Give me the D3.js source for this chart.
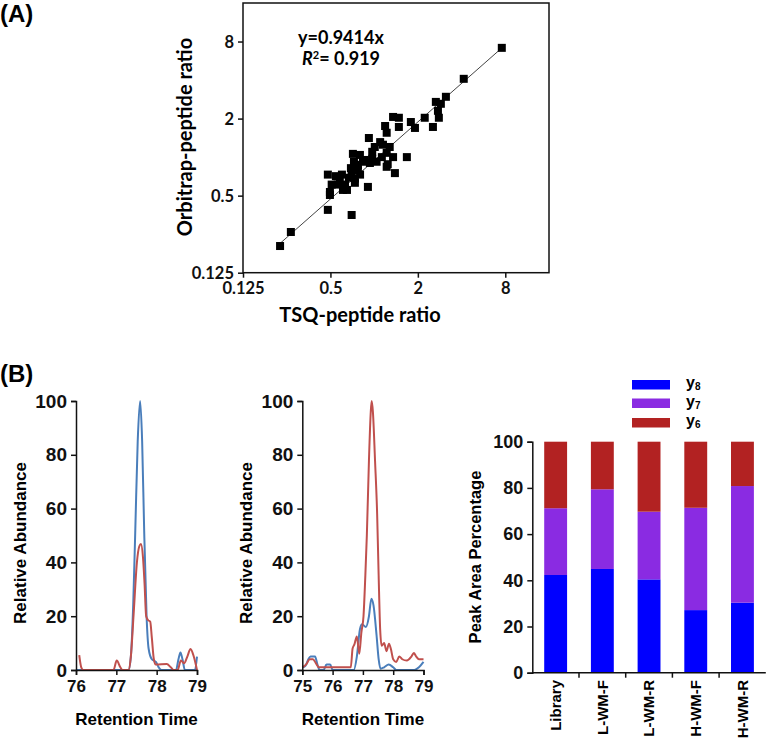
<!DOCTYPE html>
<html>
<head>
<meta charset="utf-8">
<script src="https://cdn.jsdelivr.net/npm/d3@7"></script>
<style>
  body { margin: 0; background: #fff; }
  svg { display: block; }
</style>
</head>
<body>
<div id="chart"></div>
<script>
// ---- (A) scatter: TSQ vs Orbitrap peptide ratio ----
var tsqRatio  = [7.57, 4.14, 3.12, 2.66, 2.88, 2.75, 2.79, 2.23, 2.54, 1.79, 1.91, 1.48, 1.35, 1.48, 1.19, 1.22, 0.92,
                 1.10, 1.15, 1.01, 1.28, 0.97, 1.22, 1.13, 1.35, 1.68, 0.714, 0.798, 0.864, 0.935, 0.726, 0.773, 1.04,
                 1.24, 1.22, 0.692, 0.773, 1.39, 0.48, 0.545, 0.60, 0.70, 0.80, 0.737, 0.51, 0.56, 0.63, 0.737, 0.906,
                 0.496, 0.61, 0.65, 0.496, 0.48, 0.70, 0.267, 0.225, 0.837, 0.97, 0.67, 0.58];
var orbiRatio = [7.14, 4.09, 2.96, 2.70, 2.61, 2.30, 2.03, 2.03, 1.72, 1.88, 1.69, 2.03, 2.06, 1.72, 1.75, 1.55, 1.41,
                 1.31, 1.25, 1.20, 1.20, 1.10, 1.08, 1.00, 1.00, 1.00, 1.06, 1.04, 0.95, 0.90, 0.92, 0.87, 0.92,
                 0.88, 0.84, 0.82, 0.79, 0.75, 0.73, 0.71, 0.73, 0.73, 0.73, 0.68, 0.61, 0.61, 0.61, 0.63, 0.585,
                 0.534, 0.554, 0.554, 0.506, 0.387, 0.353, 0.26, 0.202, 0.92, 0.97, 0.69, 0.66];
var fitSlope = 0.9414;
var fitR2 = "0.919";
var logTicks = [0.125, 0.5, 2, 8];

// ---- (B) chromatograms [retention time, relative abundance] ----
var chrom1Blue = [[76.0,0],[77.3,0],[77.36,5],[77.42,25],[77.47,52],[77.53,85],[77.59,100],[77.64,85],[77.69,52],
                  [77.75,20],[77.8,8],[77.88,4],[77.98,3],[78.05,1],[78.12,0],[78.48,0],[78.54,4],[78.59,6.5],
                  [78.64,4],[78.7,0],[78.95,0],[79.0,5]];
var chrom1Red  = [[76.08,5.5],[76.13,1],[76.18,0],[76.93,0],[77.01,3.5],[77.1,1],[77.15,0],[77.3,0],[77.36,5],
                  [77.43,21],[77.51,40],[77.57,46],[77.61,46.8],[77.66,42],[77.7,32],[77.74,20],[77.79,18.5],
                  [77.84,18],[77.88,12],[77.93,4],[77.98,2],[78.25,2.2],[78.35,1],[78.42,0],[78.52,0],[78.6,3.5],
                  [78.68,2.5],[78.76,5],[78.84,7.8],[78.92,5],[79.0,0]];
var chrom2Blue = [[75.0,1],[75.1,1.5],[75.2,4],[75.27,5],[75.42,5],[75.5,2],[75.57,0],[75.7,0],[75.8,2],[75.92,2],
                  [76.0,0],[76.7,0],[76.8,5],[76.9,15],[76.97,17],[77.1,16],[77.2,20],[77.28,26.5],[77.35,24],
                  [77.45,13],[77.52,4],[77.58,0.5],[77.7,1],[77.85,2],[78.0,1],[78.1,0],[78.7,0],[78.85,1],[79.0,3]];
var chrom2Red  = [[75.0,1],[75.12,2],[75.25,4],[75.35,4],[75.45,2.5],[75.55,1],[76.6,1],[76.66,8],[76.72,9.5],
                  [76.8,12.5],[76.88,6],[76.95,14],[77.02,20],[77.08,35],[77.13,50],[77.2,78],[77.26,96],[77.29,100],
                  [77.33,96],[77.4,78],[77.47,58],[77.52,35],[77.57,15],[77.62,9],[77.7,10],[77.78,7],[77.86,9.8],
                  [77.92,8],[78.0,4],[78.1,3],[78.2,5],[78.3,4],[78.45,3.5],[78.6,5],[78.68,6.3],[78.76,5],
                  [78.85,4],[79.0,4]];
var chrom1Ticks = [76, 77, 78, 79];
var chrom2Ticks = [75, 76, 77, 78, 79];
var abundTicks = [0, 20, 40, 60, 80, 100];

// ---- (B) stacked bars: peak area percentage ----
var barCategories = ["Library", "L-WM-F", "L-WM-R", "H-WM-F", "H-WM-R"];
var y8Pct = [42.3, 44.9, 40.4, 27.1, 30.3];
var y7Pct = [28.9, 34.5, 29.3, 44.3, 50.5];
var y6Pct = [28.8, 20.6, 30.3, 28.6, 19.2];
var ionKeys = ["y8", "y7", "y6"];
var ionSub = ["8", "7", "6"];

var W = 766, H = 739;
var arial = "'Liberation Sans', Arial, sans-serif";
var calibri = "Lato, 'Open Sans', sans-serif";

var svg = d3.select("#chart")
    .append("svg")
        .attr("width", W)
        .attr("height", H);

function styleAxis(g, size, family) {
    g.selectAll("text")
        .attr("font-family", family)
        .attr("font-size", size)
        .attr("font-weight", "bold")
        .attr("fill", "#111");
    g.selectAll("line, path").attr("stroke", "#111").attr("stroke-width", 1.5);
}

// panel letters
svg.append("text").attr("x", 0).attr("y", 22)
    .attr("font-family", arial).attr("font-size", 24).attr("font-weight", "bold")
    .text("(A)");
svg.append("text").attr("x", 0).attr("y", 382)
    .attr("font-family", arial).attr("font-size", 24).attr("font-weight", "bold")
    .text("(B)");

// ================= (A) =================
var sx = d3.scaleLog().base(2).domain([0.125, 16]).range([243, 549]);
var sy = d3.scaleLog().base(2).domain([0.125, 16]).range([272.7, 3]);

var gA = svg.append("g");

gA.append("rect")
    .attr("x", sx.range()[0]).attr("y", sy.range()[1])
    .attr("width", sx.range()[1] - sx.range()[0])
    .attr("height", sy.range()[0] - sy.range()[1])
    .attr("fill", "none").attr("stroke", "#111").attr("stroke-width", 1.5);

var axA = gA.append("g")
    .attr("transform", "translate(0," + sy.range()[0] + ")")
    .call(d3.axisBottom(sx).tickValues(logTicks).tickFormat(function(d) { return d; }).tickSize(5).tickPadding(5));
axA.select(".domain").remove();
styleAxis(axA, 16.5, calibri);

var ayA = gA.append("g")
    .attr("transform", "translate(" + sx.range()[0] + ",0)")
    .call(d3.axisLeft(sy).tickValues(logTicks).tickFormat(function(d) { return d; }).tickSize(5).tickPadding(4));
ayA.select(".domain").remove();
styleAxis(ayA, 16.5, calibri);
ayA.selectAll("text").attr("dy", "0.35em");

// fit line
var xExt = d3.extent(tsqRatio);
gA.append("line")
    .attr("x1", sx(xExt[0])).attr("y1", sy(xExt[0] * fitSlope))
    .attr("x2", sx(xExt[1])).attr("y2", sy(xExt[1] * fitSlope))
    .attr("stroke", "#444").attr("stroke-width", 1);

gA.selectAll("rect.pt")
    .data(tsqRatio)
    .enter()
    .append("rect")
        .attr("class", "pt")
        .attr("x", function(d) { return sx(d) - 4; })
        .attr("y", function(d, i) { return sy(orbiRatio[i]) - 4; })
        .attr("width", 8).attr("height", 8)
        .attr("fill", "#000");

gA.append("text").attr("x", 298).attr("y", 44)
    .attr("font-family", calibri).attr("font-size", 18).attr("font-weight", "bold")
    .text("y=" + fitSlope + "x");
var r2 = gA.append("text").attr("x", 302).attr("y", 65)
    .attr("font-family", calibri).attr("font-size", 18).attr("font-weight", "bold");
r2.append("tspan").attr("font-style", "italic").text("R");
r2.append("tspan").attr("font-size", 11).attr("dy", -6).text("2");
r2.append("tspan").attr("dy", 6).text("= " + fitR2);

gA.append("text")
    .attr("text-anchor", "middle")
    .attr("x", 360).attr("y", 322)
    .attr("font-family", calibri).attr("font-size", 20).attr("font-weight", "bold")
    .text("TSQ-peptide ratio");
gA.append("text")
    .attr("text-anchor", "middle")
    .attr("transform", "translate(192,137) rotate(-90)")
    .attr("font-family", calibri).attr("font-size", 20).attr("font-weight", "bold")
    .text("Orbitrap-peptide ratio");

// ================= (B) chromatograms =================
function chromatogram(xDomain, xRange, ticks, blue, red, labelX) {
    var x = d3.scaleLinear().domain(xDomain).range(xRange);
    var y = d3.scaleLinear().domain([0, 100]).range([670, 401]);
    var g = svg.append("g");

    var line = d3.line()
        .x(function(d) { return x(d[0]); })
        .y(function(d) { return y(d[1]); })
        .curve(d3.curveMonotoneX);

    g.append("path").datum(blue).attr("d", line)
        .attr("fill", "none").attr("stroke", "#4a7ebb").attr("stroke-width", 2);
    g.append("path").datum(red).attr("d", line)
        .attr("fill", "none").attr("stroke", "#c0504d").attr("stroke-width", 2);

    var ax = g.append("g")
        .attr("transform", "translate(0," + y(0) + ")")
        .call(d3.axisBottom(x).tickValues(ticks).tickFormat(d3.format("d")).tickSize(5).tickPadding(5));
    styleAxis(ax, 17, arial);
    var ay = g.append("g")
        .attr("transform", "translate(" + xRange[0] + ",0)")
        .call(d3.axisLeft(y).tickValues(abundTicks).tickSize(5).tickPadding(4));
    styleAxis(ay, 19, arial);

    g.append("text")
        .attr("text-anchor", "middle")
        .attr("x", (xRange[0] + xRange[1]) / 2).attr("y", 725)
        .attr("font-family", arial).attr("font-size", 17).attr("font-weight", "bold")
        .text("Retention Time");
    g.append("text")
        .attr("text-anchor", "middle")
        .attr("transform", "translate(" + labelX + ",543) rotate(-90)")
        .attr("font-family", arial).attr("font-size", 17).attr("font-weight", "bold")
        .text("Relative Abundance");
}

chromatogram([76, 79], [76, 197], chrom1Ticks, chrom1Blue, chrom1Red, 26);
chromatogram([75, 79], [302.3, 423.5], chrom2Ticks, chrom2Blue, chrom2Red, 252);

// ================= (B) stacked bars =================
var rows = barCategories.map(function(c, i) {
    return { cat: c, y8: y8Pct[i], y7: y7Pct[i], y6: y6Pct[i] };
});
var stacked = d3.stack().keys(ionKeys)(rows);
var ionColor = d3.scaleOrdinal().domain(ionKeys).range(["#0000ff", "#8a2be2", "#b22222"]);

var bx = d3.scaleBand().domain(barCategories).range([532.3, 765.8]).paddingInner(0.51).paddingOuter(0.255);
var by = d3.scaleLinear().domain([0, 100]).range([672.7, 441.7]);
var gC = svg.append("g");

gC.selectAll("g.layer")
    .data(stacked)
    .enter()
    .append("g")
        .attr("class", "layer")
        .attr("fill", function(d) { return ionColor(d.key); })
    .selectAll("rect")
    .data(function(d) { return d; })
    .enter()
    .append("rect")
        .attr("x", function(d) { return bx(d.data.cat); })
        .attr("y", function(d) { return by(d[1]); })
        .attr("width", bx.bandwidth())
        .attr("height", function(d) { return by(d[0]) - by(d[1]); });

var byAx = gC.append("g")
    .attr("transform", "translate(532.3,0)")
    .call(d3.axisLeft(by).tickValues(abundTicks).tickSize(5).tickPadding(4));
styleAxis(byAx, 18, arial);

// x axis with ticks on category boundaries
gC.append("line")
    .attr("x1", bx.range()[0]).attr("x2", bx.range()[1])
    .attr("y1", by(0)).attr("y2", by(0))
    .attr("stroke", "#111").attr("stroke-width", 1.5);
gC.selectAll("line.bt")
    .data(barCategories.slice(1))
    .enter()
    .append("line")
        .attr("class", "bt")
        .attr("x1", function(d) { return bx(d) - bx.step() * bx.paddingInner() / 2; })
        .attr("x2", function(d) { return bx(d) - bx.step() * bx.paddingInner() / 2; })
        .attr("y1", by(0)).attr("y2", by(0) + 5)
        .attr("stroke", "#111").attr("stroke-width", 1.5);

gC.selectAll("text.cat")
    .data(barCategories)
    .enter()
    .append("text")
        .attr("class", "cat")
        .attr("text-anchor", "end")
        .attr("dy", "0.35em")
        .attr("transform", function(d) {
            return "translate(" + (bx(d) + bx.bandwidth() / 2) + ",680) rotate(-90)";
        })
        .attr("font-family", arial).attr("font-size", 15).attr("font-weight", "bold")
        .text(function(d) { return d; });

gC.append("text")
    .attr("text-anchor", "middle")
    .attr("transform", "translate(481,557) rotate(-90)")
    .attr("font-family", arial).attr("font-size", 16.5).attr("font-weight", "bold")
    .text("Peak Area Percentage");

// legend
var legY = [380, 398.5, 418];
var leg = gC.selectAll("g.leg")
    .data(ionKeys)
    .enter()
    .append("g")
        .attr("class", "leg")
        .attr("transform", function(d, i) { return "translate(632," + legY[i] + ")"; });
leg.append("rect")
    .attr("width", 38).attr("height", 9.5)
    .attr("fill", function(d) { return ionColor(d); });
var legText = leg.append("text")
    .attr("x", 54).attr("y", 8)
    .attr("font-family", arial).attr("font-size", 16).attr("font-weight", "bold");
legText.append("tspan").text("y");
legText.append("tspan").attr("font-size", 10).attr("dy", 2)
    .text(function(d, i) { return ionSub[i]; });
</script>
</body>
</html>
